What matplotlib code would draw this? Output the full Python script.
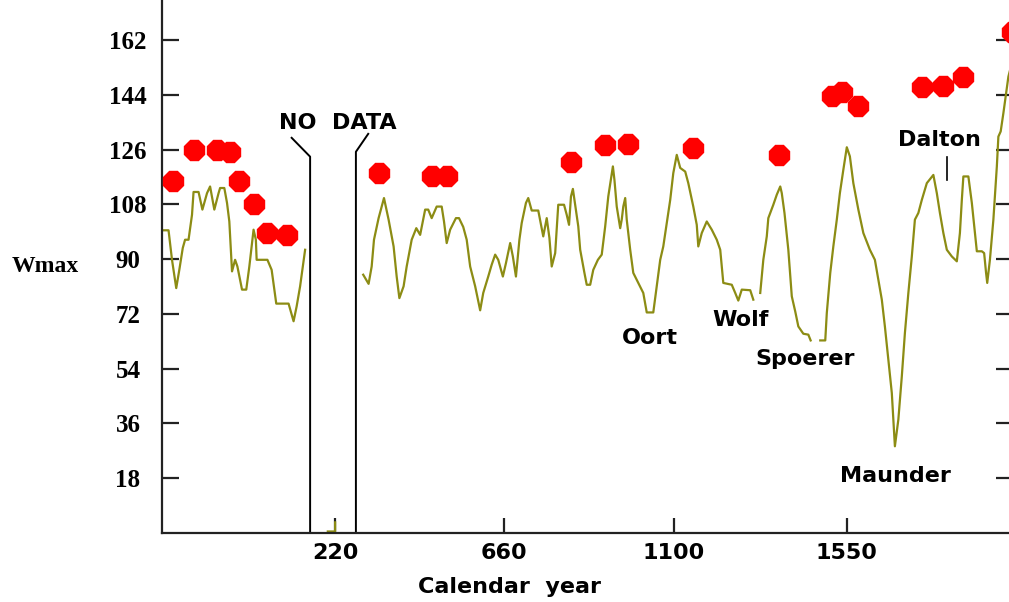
import numpy as np
import matplotlib
matplotlib.use("Agg")
import matplotlib.pyplot as plt

nan = np.nan

# Reconstructed Wmax (gaps = no record)
years = [-228, -213, -204, -193, -185, -176, -170, -161, -152, -148, -135, -125, -113, -105, -94,
         -83, -79, -68, -61, -55, -48, -40, -34, -22, -11, -3, 8, 14, 16, 44, 55, 67, 99, 112,
         120, 129, 136, 142,
         190, 201, 220, 220, 240,
         293, 307, 315, 321, 333, 347, 359, 372, 380, 387, 398, 406, 419, 431, 441, 454, 462, 471,
         484, 497, 503, 510, 519, 534, 542, 553, 562, 571, 584, 597, 605, 618, 627, 636, 644, 656,
         664, 675, 682, 690, 699, 705, 716, 722, 731, 748, 757, 761, 770, 777, 783, 792, 800, 815,
         822, 828, 833, 838, 844, 852,
         857, 868, 874, 883, 891, 903, 913, 922, 930, 942, 946, 952, 961, 965, 969, 974, 978, 987,
         995, 1008, 1021, 1030, 1047, 1056, 1065, 1073, 1082, 1091, 1099, 1108, 1117, 1130, 1138,
         1151, 1160, 1164, 1173, 1186, 1199, 1212, 1221, 1229, 1251, 1260, 1268, 1277, 1299, 1307,
         1316, 1325, 1333, 1342, 1346, 1359, 1368, 1377, 1381, 1388, 1398, 1407, 1416,
         1424, 1437, 1450, 1456, 1468, 1481, 1494, 1498, 1507, 1515, 1524, 1532, 1541, 1550, 1558,
         1567, 1580, 1593, 1610, 1623, 1632, 1641, 1649, 1658, 1667, 1671, 1675, 1684, 1693, 1701,
         1710, 1719, 1727, 1736, 1745, 1758, 1775, 1784, 1792, 1801, 1810, 1823, 1836, 1844, 1849,
         1853, 1866, 1875, 1883, 1888, 1901, 1907, 1912, 1915, 1922, 1931, 1940, 1944, 1950, 1957,
         1964, 1970, 1982]
wmax = [99.5, 99.5, 89.8, 80.5, 86.5, 93.7, 96.4, 96.4, 104.6, 112.1, 112.1, 106.3, 111.7, 113.9,
        106.3, 111.7, 113.4, 113.4, 108.5, 102.4, 86.0, 89.8, 87.6, 80.0, 80.0, 87.6, 99.7, 96.4,
        89.8, 89.8, 86.5, 75.4, 75.4, 69.6, 74.5, 81.1, 87.6, 93.1,
        nan, 0.5, 0.5, 3.5, nan,
        84.9, 81.9, 87.6, 96.4, 103.5, 110.1, 103.0, 94.2, 84.3, 77.2, 81.1, 87.6, 96.4, 100.2,
        98.0, 106.3, 106.3, 103.5, 107.3, 107.3, 102.4, 95.3, 99.7, 103.5, 103.5, 100.6, 96.4,
        87.6, 81.1, 73.2, 78.9, 84.3, 88.2, 91.5, 89.8, 84.3, 88.7, 95.3, 90.9, 84.3, 96.4, 101.9,
        108.5, 110.1, 106.0, 106.0, 100.2, 97.5, 103.5, 97.0, 87.6, 92.0, 107.9, 107.9, 104.6,
        101.3, 110.6, 113.1, 107.9, 100.8,
        93.1, 85.5, 81.6, 81.6, 86.5, 89.8, 91.5, 100.8, 110.6, 120.5, 116.1, 107.3, 100.2, 103.0,
        107.3, 110.1, 103.0, 93.1, 85.5, 82.2, 78.9, 72.5, 72.5, 81.1, 89.8, 94.2, 101.9, 109.5,
        118.3, 124.3, 120.0, 118.8, 115.0, 107.3, 101.3, 94.2, 98.6, 102.4, 99.7, 96.4, 93.1, 82.2,
        81.6, 78.9, 76.4, 80.0, 79.8, 76.7,
        nan, 78.9, 89.8, 97.5, 103.5, 107.9, 111.2, 113.9, 111.7, 105.2, 93.1, 77.8, 72.8,
        67.9, 65.5, 65.2, 63.3, nan, 63.3, 63.3, 72.3, 85.5, 94.2, 103.0, 111.7, 119.4, 126.8,
        123.8, 115.0, 106.3, 98.6, 93.1, 89.8, 83.3, 76.7, 67.9, 57.0, 46.0, 37.3, 28.5, 37.3,
        51.5, 65.7, 78.9, 90.9, 103.0, 105.2, 109.5, 115.0, 117.7, 111.7, 105.2, 98.6, 93.1, 90.9,
        89.3, 98.6, 109.5, 117.2, 117.2, 108.5, 98.6, 92.6, 92.6, 92.0, 85.5, 82.2, 89.8, 103.0,
        120.5, 130.3, 132.0, 138.0, 144.6, 150.0, 156.0]

# observed maxima (red dots)
dot_years = [-202, -148, -88, -53, -31, 8, 44, 96, 335, 471, 510, 833, 922, 981, 1151, 1375,
             1511, 1537, 1580, 1745, 1801, 1853, 1979]
dot_wmax = [115.6, 126.0, 126.0, 125.4, 115.8, 108.2, 98.6, 98.0, 118.3, 117.5, 117.2, 122.1,
            127.4, 127.8, 126.7, 124.3, 143.5, 145.1, 140.2, 146.6, 147.0, 149.8, 164.8]

x_ticks = [220, 660, 1100, 1550]
y_ticks = [18, 36, 54, 72, 90, 108, 126, 144, 162]

# grand minima labels: (text, year, value)
minima = [("Oort", 1037, 64.2), ("Wolf", 1273, 70.1), ("Spoerer", 1441, 57.2),
          ("Maunder", 1677, 18.6), ("Dalton", 1792, 129.2)]

sans = {"family": "DejaVu Sans", "weight": "bold"}
serif = {"family": "Liberation Serif", "weight": "bold"}

fig = plt.figure(figsize=(10.09, 6.02), dpi=100)
ax = fig.add_axes([162 / 1009, 69 / 602, 851 / 1009, 533 / 602])

ax.plot(years, wmax, color="#8c8c14", lw=1.6)
ax.plot(dot_years, dot_wmax, ls="none", marker="8", ms=15, color="red", mec="red",
        clip_on=False, zorder=3)

# NO DATA bracket
ax.plot([107, 155, 155], [129.9, 123.7, 0], color="black", lw=1.4)
ax.plot([306, 274, 274], [131.2, 125.3, 0], color="black", lw=1.4)
ax.text(228, 134.8, "NO  DATA", ha="center", va="center", fontsize=16, **sans)

for name, yr, val in minima:
    ax.text(yr, val, name, ha="center", va="center", fontsize=16, **sans)
ax.plot([1810, 1810], [116.1, 123.7], color="black", lw=1.2)

ax.set_xlim(-230, 1982)
ax.set_ylim(0, 175.2)

ax.spines["top"].set_visible(False)
ax.spines["right"].set_visible(False)
for s in ("left", "bottom"):
    ax.spines[s].set_linewidth(1.6)
    ax.spines[s].set_color("#222222")

ax.set_xticks(x_ticks)
ax.set_yticks(y_ticks)
ax.set_xticklabels([str(v) for v in x_ticks], fontsize=16, **sans)
ax.set_yticklabels([str(v) for v in y_ticks], fontsize=18, **serif)
for lbl in ax.get_yticklabels():
    lbl.set_horizontalalignment("center")

ax.tick_params(axis="y", direction="in", length=12, width=1.6, color="#222222",
               left=True, right=True, pad=24.5)
ax.tick_params(axis="x", direction="in", length=11, width=1.6, color="#222222", pad=7)

fig.text(45 / 1009, 1 - 266 / 602, "Wmax", ha="center", va="center", fontsize=17, **serif)
fig.text(509 / 1009, 1 - 587 / 602, "Calendar  year", ha="center", va="center",
         fontsize=16, **sans)

fig.savefig("out.png", dpi=100)
